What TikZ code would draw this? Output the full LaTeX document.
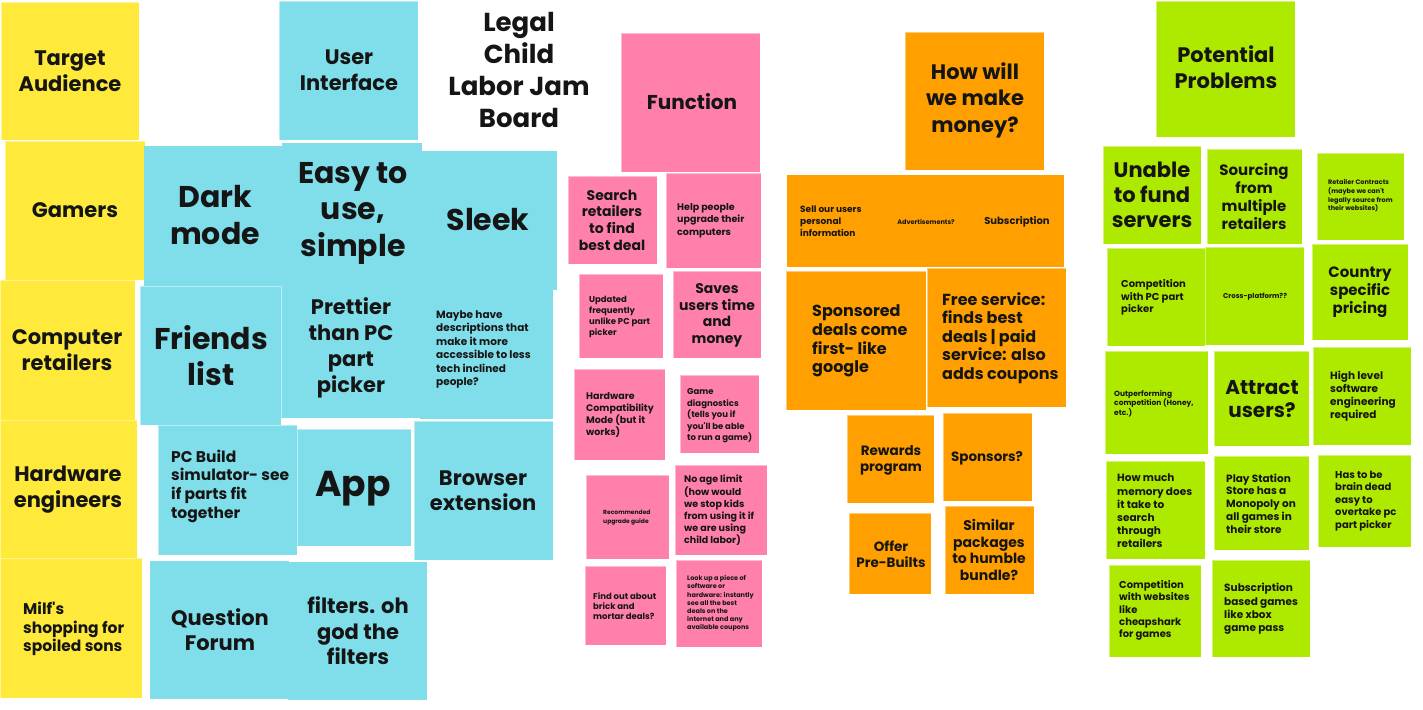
\documentclass[tikz,border=0pt]{standalone}
\usepackage{fontspec}
\setmainfont{Poppins}
\usetikzlibrary{fit}

\definecolor{noteY}{HTML}{FFEA3B}
\definecolor{noteB}{HTML}{80DEEA}
\definecolor{noteP}{HTML}{FF80AB}
\definecolor{noteO}{HTML}{FFA000}
\definecolor{noteG}{HTML}{AEEA00}
\definecolor{ink}{HTML}{151515}

\newcommand\fsz[2]{\fontsize{#1}{#2}\selectfont\bfseries}
\newcommand\apos{\textquotesingle}
% sticky note: name, colour, x1, y1, x2, y2 (pixel grid, y downwards)
\newcommand\note[6]{\node[sticky,fill=#2,fit={(#3,#4)(#5,#6)}] (#1) {};}
% note without a visible edge (notes that merge into one block)
\newcommand\flatnote[6]{\node[sticky,draw=none,fill=#2,fit={(#3,#4)(#5,#6)}] (#1) {};}

\tikzset{
  sticky/.style={draw=white,draw opacity=0.45,line width=0.6pt,inner sep=0pt},
  ctext/.style={inner sep=0pt,align=center,text=ink},
  ltext/.style={inner sep=0pt,align=left,anchor=west,text=ink},
}

\begin{document}
\begin{tikzpicture}[x=1pt,y=-1pt]
\useasboundingbox (0,0) rectangle (1423,709);
\fill[white] (0,0) rectangle (1423,709);

% ---------- Target audience (yellow) ----------
\note{ta}{noteY}{1}{2}{139}{140}
\note{gam}{noteY}{5}{141}{145}{280}
\note{cr}{noteY}{0}{280}{135}{420}
\note{he}{noteY}{0}{420}{137}{560}
\note{milf}{noteY}{0}{558}{142}{698}
\node[ctext,font={\fsz{21}{26}}] (ta-t) at (70,71) {Target\\Audience};
\node[ctext,font={\fsz{21}{26}}] (gam-t) at (75,210) {Gamers};
\node[ctext,font={\fsz{21}{26}}] (cr-t) at (67,350) {Computer\\retailers};
\node[ctext,font={\fsz{21}{26}}] (he-t) at (68,490) {Hardware\\engineers};
\node[ltext,font={\fsz{15.5}{18.5}}] (milf-t) at (23,629) {Milf\apos s\\shopping for\\spoiled sons};

% ---------- User interface (cyan) ----------
\note{ui}{noteB}{279}{1}{418}{140}
\flatnote{dark}{noteB}{144}{146}{285}{286}
\flatnote{easy}{noteB}{282}{143}{422}{285}
\flatnote{sleek}{noteB}{420}{151}{557}{290}
\flatnote{prettier}{noteB}{281}{283}{421}{418}
\flatnote{maybe}{noteB}{420}{289}{553}{419}
\note{friends}{noteB}{140}{286}{281}{425}
\note{pcb}{noteB}{158}{425}{297}{555}
\note{app}{noteB}{297}{429}{411}{546}
\note{browser}{noteB}{414}{421}{553}{560}
\flatnote{qf}{noteB}{150}{561}{289}{699}
\flatnote{filt}{noteB}{288}{562}{427}{700}
\node[ctext,font={\fsz{21}{26}}] (ui-t) at (349,70) {User\\Interface};
\node[ctext,font={\fsz{30}{37}}] (dark-t) at (215,215) {Dark\\mode};
\node[ctext,font={\fsz{30}{36.5}}] (easy-t) at (353,213) {Easy to\\use,\\simple};
\node[ctext,font={\fsz{30}{37}}] (sleek-t) at (488,220) {Sleek};
\node[ctext,font={\fsz{30}{36}}] (friends-t) at (211,356) {Friends\\list};
\node[ctext,font={\fsz{21}{26}}] (prettier-t) at (351,348) {Prettier\\than PC\\part\\picker};
\node[ltext,font={\fsz{10.5}{13.4}}] (maybe-t) at (436,349.5) {Maybe have\\descriptions that\\make it more\\accessible to less\\tech inclined\\people?};
\node[ltext,font={\fsz{15.5}{18.7}}] (pcb-t) at (171,486) {PC Build\\simulator- see\\if parts fit\\together};
\node[ctext,font={\fsz{36}{40}}] (app-t) at (353,489) {App};
\node[ctext,font={\fsz{21}{25}}] (browser-t) at (483,491) {Browser\\extension};
\node[ctext,font={\fsz{21}{25}}] (qf-t) at (220,630) {Question\\Forum};
\node[ctext,font={\fsz{21}{25.5}}] (filt-t) at (358,631) {filters. oh\\god the\\filters};

% ---------- Board title ----------
\node[ctext,font={\fsz{26}{32}}] (title) at (519,70) {Legal\\Child\\Labor Jam\\Board};

% ---------- Function (pink) ----------
\note{func}{noteP}{621}{33}{760}{172}
\note{search}{noteP}{568}{176}{657}{264}
\note{help}{noteP}{666}{173}{761}{268}
\note{upd}{noteP}{579}{274}{663}{358}
\note{saves}{noteP}{673}{271}{761}{358}
\note{hwc}{noteP}{574}{369}{665}{460}
\note{game}{noteP}{680}{375}{759}{453}
\note{rec}{noteP}{586}{475}{669}{559}
\note{noage}{noteP}{675}{465}{767}{555}
\note{find}{noteP}{585}{566}{666}{645}
\note{look}{noteP}{676}{560}{762}{647}
\node[ctext,font={\fsz{20}{24}}] (func-t) at (692,102) {Function};
\node[ctext,font={\fsz{14}{16.7}}] (search-t) at (612,220) {Search\\retailers\\to find\\best deal};
\node[ltext,font={\fsz{9.5}{12.3}}] (help-t) at (677,220.5) {Help people\\upgrade their\\computers};
\node[ltext,font={\fsz{8.5}{11}}] (upd-t) at (589,316.5) {Updated\\frequently\\unlike PC part\\picker};
\node[ctext,font={\fsz{14}{16.5}}] (saves-t) at (717,315.5) {Saves\\users time\\and\\money};
\node[ltext,font={\fsz{9.5}{12}}] (hwc-t) at (586,415) {Hardware\\Compatibility\\Mode (but it\\works)};
\node[ltext,font={\fsz{8.5}{11.5}}] (game-t) at (687,416) {Game\\diagnostics\\(tells you if\\you\apos ll be able\\to run a game)};
\node[ltext,font={\fsz{6}{9}}] (rec-t) at (603,517.5) {Recommended\\upgrade guide};
\node[ltext,font={\fsz{9.5}{12.2}}] (noage-t) at (684,510.5) {No age limit\\(how would\\we stop kids\\from using it if\\we are using\\child labor)};
\node[ltext,font={\fsz{8.5}{10}}] (find-t) at (593,606) {Find out about\\brick and\\mortar deals?};
\node[ltext,font={\fsz{6.5}{8.2}}] (look-t) at (687,603.5) {Look up a piece of\\software or\\hardware: instantly\\see all the best\\deals on the\\internet and any\\available coupons};

% ---------- How will we make money (orange) ----------
\note{money}{noteO}{905}{32}{1044}{170}
\flatnote{sell}{noteO}{787}{175}{880.5}{267}
\flatnote{adv}{noteO}{880}{175}{972.5}{267}
\flatnote{subs}{noteO}{972}{175}{1064}{267}
\note{spons}{noteO}{786}{271}{926}{410}
\note{free}{noteO}{927}{268}{1066}{407}
\note{rew}{noteO}{847}{415}{934}{503}
\note{spq}{noteO}{943}{413}{1032}{501}
\note{offer}{noteO}{849}{513}{931}{594}
\note{sim}{noteO}{945}{506}{1034}{594}
\node[ctext,font={\fsz{21}{26.5}}] (money-t) at (975,100) {How will\\we make\\money?};
\node[ltext,font={\fsz{9}{12}}] (sell-t) at (800,221) {Sell our users\\personal\\information};
\node[ctext,font={\fsz{6.5}{8}}] (adv-t) at (926,222) {Advertisements?};
\node[ctext,font={\fsz{10}{12}}] (subs-t) at (1017,222) {Subscription};
\node[ltext,font={\fsz{16}{18.7}}] (spons-t) at (812,341) {Sponsored\\deals come\\first- like\\google};
\node[ltext,font={\fsz{16}{18.5}}] (free-t) at (942,338) {Free service:\\finds best\\deals | paid\\service: also\\adds coupons};
\node[ctext,font={\fsz{13.5}{16}}] (rew-t) at (891,460) {Rewards\\program};
\node[ctext,font={\fsz{13.5}{16}}] (spq-t) at (987,458) {Sponsors?};
\node[ctext,font={\fsz{13.5}{16}}] (offer-t) at (891,554) {Offer\\Pre-Builts};
\node[ctext,font={\fsz{14}{16.7}}] (sim-t) at (989,550) {Similar\\packages\\to humble\\bundle?};

% ---------- Potential problems (green) ----------
\note{pp}{noteG}{1156}{1}{1295}{137}
\note{unable}{noteG}{1103}{146}{1201}{244}
\note{sourcing}{noteG}{1207}{149}{1302}{244}
\note{retc}{noteG}{1317}{153}{1404}{240}
\note{cpc}{noteG}{1107}{248}{1205}{346}
\note{cross}{noteG}{1205}{247}{1304}{345}
\note{country}{noteG}{1312}{244}{1408}{340}
\note{outp}{noteG}{1105}{351}{1208}{454}
\note{attract}{noteG}{1214}{351}{1309}{446}
\note{high}{noteG}{1313}{347}{1411}{445}
\note{howm}{noteG}{1106}{461}{1205}{559}
\note{ps}{noteG}{1214}{456}{1309}{550}
\note{brain}{noteG}{1318}{455}{1411}{547}
\note{cws}{noteG}{1109}{565}{1201}{657}
\note{sbg}{noteG}{1212}{560}{1310}{657}
\node[ctext,font={\fsz{21}{26}}] (pp-t) at (1226,67) {Potential\\Problems};
\node[ctext,font={\fsz{21}{25}}] (unable-t) at (1152,195) {Unable\\to fund\\servers};
\node[ctext,font={\fsz{15}{18}}] (sourcing-t) at (1254,197) {Sourcing\\from\\multiple\\retailers};
\node[ltext,font={\fsz{6.5}{8.7}}] (retc-t) at (1328,196) {Retailer Contracts\\(maybe we can\apos t\\legally source from\\their websites)};
\node[ltext,font={\fsz{10}{12.7}}] (cpc-t) at (1121,297.5) {Competition\\with PC part\\picker};
\node[ctext,font={\fsz{7}{9}}] (cross-t) at (1255,297) {Cross-platform??};
\node[ctext,font={\fsz{15}{18}}] (country-t) at (1360,292) {Country\\specific\\pricing};
\node[ltext,font={\fsz{7.5}{9.5}}] (outp-t) at (1114,403.5) {Outperforming\\competition (Honey,\\etc.)};
\node[ctext,font={\fsz{20}{23}}] (attract-t) at (1262,399.5) {Attract\\users?};
\node[ltext,font={\fsz{10.5}{13}}] (high-t) at (1330,396.5) {High level\\software\\engineering\\required};
\node[ltext,font={\fsz{10.5}{13.2}}] (howm-t) at (1117,511) {How much\\memory does\\it take to\\search\\through\\retailers};
\node[ltext,font={\fsz{10.5}{12.8}}] (ps-t) at (1226,503.5) {Play Station\\Store has a\\Monopoly on\\all games in\\their store};
\node[ltext,font={\fsz{10}{12.6}}] (brain-t) at (1335,501) {Has to be\\brain dead\\easy to\\overtake pc\\part picker};
\node[ltext,font={\fsz{10}{12.3}}] (cws-t) at (1119,610.5) {Competition\\with websites\\like\\cheapshark\\for games};
\node[ltext,font={\fsz{10.5}{13.3}}] (sbg-t) at (1224,609) {Subscription\\based games\\like xbox\\game pass};
\end{tikzpicture}
\end{document}
